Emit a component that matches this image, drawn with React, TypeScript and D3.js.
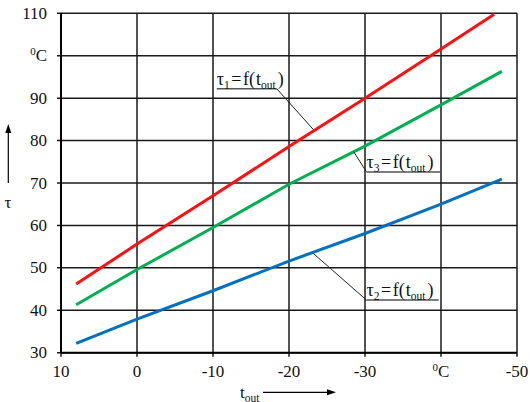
import React from "react";
import * as d3 from "d3";

// ---- data ----
const xTicks = [10, 0, -10, -20, -30, -40, -50];
const xTickLabels = ["10", "0", "-10", "-20", "-30", "°C", "-50"];
const yTicks = [30, 40, 50, 60, 70, 80, 90, 100, 110];
const yTickLabels = ["30", "40", "50", "60", "70", "80", "90", "°C", "110"];

const tOutRed = [8, 0, -10, -20, -30, -40, -47];
const tau1 = [46.2, 55.6, 67.0, 78.6, 90.0, 101.6, 109.8];
const tOut23 = [8, 0, -10, -20, -30, -40, -48];
const tau3 = [41.3, 49.6, 59.5, 69.7, 78.7, 88.4, 96.3];
const tau2 = [32.2, 37.9, 44.6, 51.6, 58.1, 65.0, 70.9];

const seriesNames = ["1", "3", "2"];
const seriesColors = ["#ff1010", "#00b050", "#0070c0"];

const annotations = [
  { sub: "1", anchor: [-23.2, 82.6], line: [-18.4, -10.5], level: 92.2 },
  { sub: "3", anchor: [-28.5, 77.4], line: [-30.2, -39.9], level: 72.6 },
  { sub: "2", anchor: [-23.2, 53.4], line: [-30.2, -39.7], level: 42.4 },
];

const W = 530;
const H = 402;
const FONT = "Liberation Serif";
const ff = { fontFamily: FONT };

function Deg({ label }: { label: string }) {
  if (label === "°C") {
    return (
      <>
        <tspan fontSize={11} dy={-6}>0</tspan>
        <tspan dy={6}>C</tspan>
      </>
    );
  }
  return <>{label}</>;
}

export default function App() {
  const x = d3.scaleLinear().domain([10, -50]).range([61, 517]);
  const y = d3.scaleLinear().domain([30, 110]).range([352.7, 13.3]);
  const line = d3
    .line<[number, number]>()
    .x((d) => x(d[0]))
    .y((d) => y(d[1]));

  const series = [
    d3.zip(tOutRed, tau1) as [number, number][],
    d3.zip(tOut23, tau3) as [number, number][],
    d3.zip(tOut23, tau2) as [number, number][],
  ];

  const grid = "#1a1a1a";
  return (
    <svg width={W} height={H} style={{ position: "absolute", left: 0, top: 0, background: "#fff" }}>
      <rect width={W} height={H} fill="#fff" />
      {yTicks.map((v) => (
        <line key={"h" + v} x1={x(10) - 4} x2={x(-50)} y1={y(v)} y2={y(v)} stroke={grid} strokeWidth={1.5} />
      ))}
      {xTicks.map((v) => (
        <line key={"v" + v} x1={x(v)} x2={x(v)} y1={y(110)} y2={y(30) + 4} stroke={grid} strokeWidth={1.5} />
      ))}
      <line x1={x(10)} x2={x(10)} y1={y(110)} y2={y(30)} stroke="#000" strokeWidth={2} />
      <line x1={x(10)} x2={x(-50)} y1={y(30)} y2={y(30)} stroke="#000" strokeWidth={2} />

      {yTicks.map((v, i) => (
        <text key={"yl" + v} x={47} y={y(v) + 5.5} textAnchor="end" fontSize={17} fill="#111" style={ff}>
          <Deg label={yTickLabels[i]} />
        </text>
      ))}
      {xTicks.map((v, i) => (
        <text key={"xl" + v} x={x(v)} y={377} textAnchor="middle" fontSize={17} fill="#111" style={ff}>
          <Deg label={xTickLabels[i]} />
        </text>
      ))}

      {series.map((s, i) => (
        <path key={"s" + seriesNames[i]} d={line(s) || ""} fill="none" stroke={seriesColors[i]} strokeWidth={3} />
      ))}

      {annotations.map((a) => {
        const ux1 = x(a.line[0]);
        const ux2 = x(a.line[1]);
        const uy = y(a.level);
        const left = Math.min(ux1, ux2);
        return (
          <g key={"a" + a.sub}>
            <line x1={x(a.anchor[0])} y1={y(a.anchor[1])} x2={ux1} y2={uy} stroke="#222" strokeWidth={1} />
            <line x1={ux1} x2={ux2} y1={uy} y2={uy} stroke="#555" strokeWidth={1.5} />
            <text x={left} y={uy - 4} fontSize={18} fill="#111" style={ff}>
              τ
              <tspan fontSize={11.5} dy={4}>{a.sub}</tspan>
              <tspan dy={-4} dx={1.5}>=</tspan>
              <tspan dx={1.5}>f(</tspan>
              <tspan dx={1}>t</tspan>
              <tspan fontSize={11.5} dy={4}>out</tspan>
              <tspan dy={-4} dx={2}>)</tspan>
            </text>
          </g>
        );
      })}

      <line x1={8.3} x2={8.3} y1={183} y2={131} stroke="#000" strokeWidth={1.2} />
      <path d="M8.3,124 L5.3,133 L11.3,133 Z" fill="#000" />
      <text x={8} y={208} textAnchor="middle" fontSize={17} fill="#111" style={ff}>τ</text>

      <text x={240} y={397.5} fontSize={17} fill="#111" style={ff}>
        t<tspan fontSize={11.5} dy={4}>out</tspan>
      </text>
      <line x1={263} x2={328} y1={392.3} y2={392.3} stroke="#000" strokeWidth={1.2} />
      <path d="M336,392.3 L327,389.3 L327,395.3 Z" fill="#000" />
    </svg>
  );
}
